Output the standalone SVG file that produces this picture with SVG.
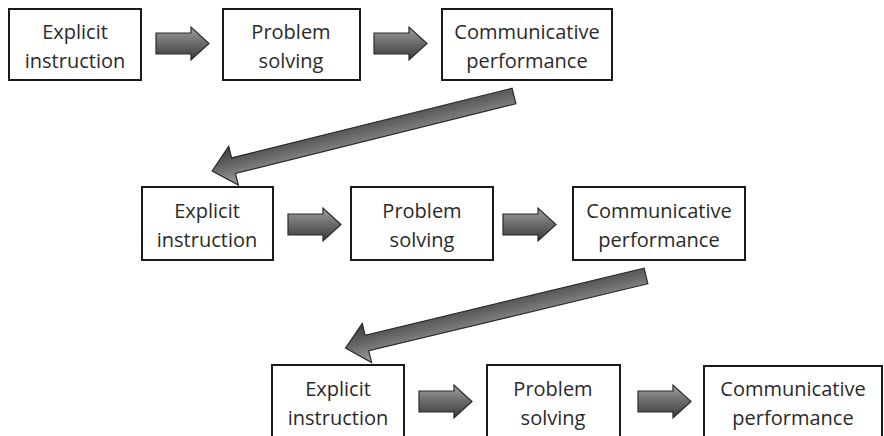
<svg xmlns="http://www.w3.org/2000/svg" width="884" height="436" viewBox="0 0 884 436">
<defs>
<linearGradient id="g" x1="0" y1="0" x2="0" y2="1">
<stop offset="0" stop-color="#a0a0a0"/>
<stop offset="0.5" stop-color="#6a6a6a"/>
<stop offset="1" stop-color="#3a3a3a"/>
</linearGradient>
<path id="sa" d="M0,6 H35 V0 L53,16.5 L35,33 V27 H0 Z"/>
</defs>
<style>
.box{fill:#fff;stroke:#1a1a1a;stroke-width:2}
.t{font-family:"Open Sans","Liberation Sans",sans-serif;font-size:20px;fill:#2a2a2a;text-anchor:middle}
.arr{fill:url(#g);stroke:#2a2a2a;stroke-width:1.2}
</style>
<rect width="884" height="436" fill="#fff"/>
<g id="r1n1"><rect class="box" x="9" y="9" width="132" height="71"/><text class="t" x="75" y="39">Explicit</text><text class="t" x="75" y="68">instruction</text></g>
<g id="r1n2"><rect class="box" x="223" y="9" width="137" height="71"/><text class="t" x="291" y="39">Problem</text><text class="t" x="291" y="68">solving</text></g>
<g id="r1n3"><rect class="box" x="442" y="9" width="170" height="71"/><text class="t" x="527" y="39">Communicative</text><text class="t" x="527" y="68">performance</text></g>
<g id="r2n1"><rect class="box" x="142" y="187" width="131" height="73"/><text class="t" x="207" y="218">Explicit</text><text class="t" x="207" y="247">instruction</text></g>
<g id="r2n2"><rect class="box" x="351" y="187" width="142" height="73"/><text class="t" x="422" y="218">Problem</text><text class="t" x="422" y="247">solving</text></g>
<g id="r2n3"><rect class="box" x="573" y="187" width="172" height="73"/><text class="t" x="659" y="218">Communicative</text><text class="t" x="659" y="247">performance</text></g>
<g id="r3n1"><rect class="box" x="272" y="365" width="132" height="75"/><text class="t" x="338" y="396">Explicit</text><text class="t" x="338" y="425">instruction</text></g>
<g id="r3n2"><rect class="box" x="487" y="365" width="133" height="75"/><text class="t" x="553" y="396">Problem</text><text class="t" x="553" y="425">solving</text></g>
<g id="r3n3"><rect class="box" x="704" y="366" width="178" height="74"/><text class="t" x="793" y="396">Communicative</text><text class="t" x="793" y="425">performance</text></g>
<g id="connectors">
<use href="#sa" class="arr" transform="translate(156,27)"/>
<use href="#sa" class="arr" transform="translate(374,27)"/>
<use href="#sa" class="arr" transform="translate(288,208)"/>
<use href="#sa" class="arr" transform="translate(503,208)"/>
<use href="#sa" class="arr" transform="translate(419,385)"/>
<use href="#sa" class="arr" transform="translate(638,385)"/>
<path class="arr" transform="translate(514,96) rotate(166.05)" d="M0,-8 H289 V-20 L311,0 L289,20 V8 H0 Z"/>
<path class="arr" transform="translate(646,276) rotate(166.5)" d="M0,-8 H287 V-20 L309,0 L287,20 V8 H0 Z"/>
</g>
</svg>
